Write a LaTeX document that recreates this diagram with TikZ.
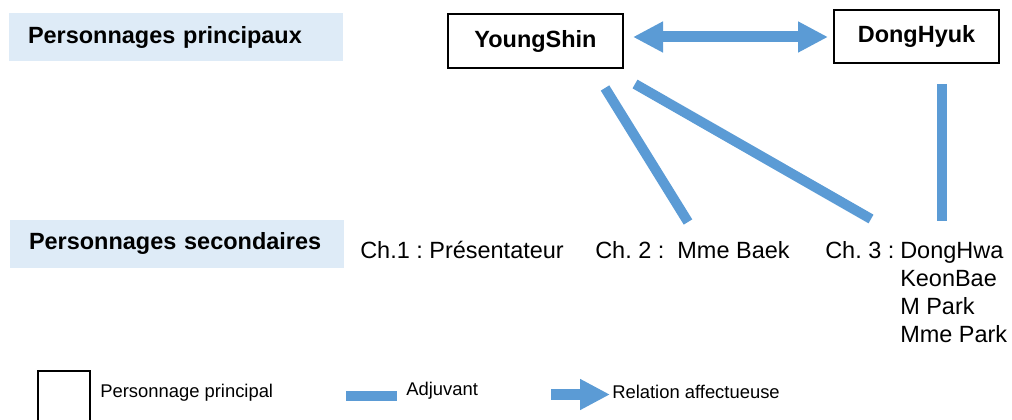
\documentclass[tikz,border=0pt]{standalone}
\usepackage{fontspec}
\setmainfont{Liberation Sans}
\frenchspacing
\usetikzlibrary{arrows.meta,calc}
\definecolor{bleu}{RGB}{91,155,213}
\definecolor{bleuclair}{RGB}{222,235,247}
\tikzset{>=latex}
\tikzstyle{categorie}=[rectangle,fill=bleuclair,inner xsep=14.25pt,text width=222pt,minimum height=36pt,align=left,font=\fontsize{17.6}{20}\selectfont\bfseries]
\tikzstyle{principal}=[rectangle,draw=black,line width=1.5pt,font=\fontsize{17.6}{20}\selectfont\bfseries]
\tikzstyle{second}=[anchor=base west,inner sep=0pt,font=\fontsize{17.6}{20}\selectfont]
\tikzstyle{legende}=[anchor=west,inner sep=0pt,font=\fontsize{13.8}{16}\selectfont]
\tikzstyle{adjuvant}=[draw=bleu,line width=7.5pt]
\tikzstyle{relation}=[draw=bleu,line width=8.25pt,-{Triangle[length=22.5pt,width=21.75pt]}]

\begin{document}
\begin{tikzpicture}[x=0.75pt,y=-0.75pt]
    \clip (0,0) rectangle (1012,420);

    \node[categorie] (cat1) at (176,37.5) {Personnages principaux};
    \node[categorie] (cat2) at (177,243.5) {Personnages secondaires};

    \node[principal,minimum width=131.25pt,minimum height=40.5pt] (ys) at (535.5,41) {YoungShin};
    \node[principal,minimum width=123.75pt,minimum height=39.75pt] (dh) at (916.5,36.5) {DongHyuk};

    \node[second] (ch1) at (360,258) {Ch.1 : Présentateur};
    \node[second] (ch2) at (595,258) {Ch. 2 :~~Mme Baek};
    \node[second] (ch3) at (825,258) {Ch. 3 :};
    \foreach \nom [count=\k from 0] in {DongHwa,KeonBae,M Park,Mme Park} {
        \node[second] (p\k) at (900,258+28*\k) {\nom};
    };

    \coordinate (r1) at (633,37);
    \coordinate (r2) at (828,37);
    \draw[relation,{Triangle[length=22.5pt,width=21.75pt]}-{Triangle[length=22.5pt,width=21.75pt]}] (r1) -- (r2);

    \coordinate (a1) at (605,88);
    \coordinate (b1) at (688,222);
    \coordinate (a2) at (635,84);
    \coordinate (b2) at (871,219);
    \coordinate (a3) at (942,84);
    \coordinate (b3) at (942,221);
    \draw[adjuvant] (a1) -- (b1);
    \draw[adjuvant] (a2) -- (b2);
    \draw[adjuvant] (a3) -- (b3);

    % legende
    \node[draw,line width=1.5pt,minimum width=39pt,minimum height=45pt,anchor=north west] (lg1) at (37,370) {};
    \node[legende] (lt1) at (100,393) {Personnage principal};
    \coordinate (l2a) at (346,396);
    \coordinate (l2b) at (397,396);
    \draw[adjuvant] (l2a) -- (l2b);
    \node[legende] (lt2) at (406,391) {Adjuvant};
    \coordinate (l3a) at (551,394.5);
    \coordinate (l3b) at (610,394.5);
    \draw[relation] (l3a) -- (l3b);
    \node[legende] (lt3) at (612,392) {Relation affectueuse};
\end{tikzpicture}
\end{document}
